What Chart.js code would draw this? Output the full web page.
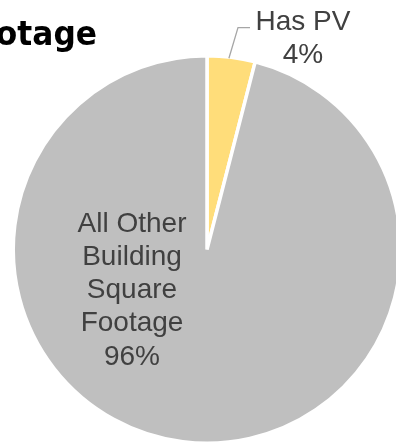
<!DOCTYPE html>
<html>
<head>
<meta charset="utf-8">
<script src="https://cdn.jsdelivr.net/npm/chart.js@4/dist/chart.umd.min.js"></script>
<style>
  html, body { margin: 0; padding: 0; background: #fff; overflow: hidden; }
  #wrap { width: 396px; height: 445px; overflow: hidden; }
</style>
</head>
<body>
<div id="wrap"><canvas id="pvShareChart" width="414" height="445"></canvas></div>
<script>
const categories = ['Has PV', 'All Other Building Square Footage'];
const shares = [4, 96];
const sliceColors = ['#FFDD7A', '#BFBFBF'];
const chartTitle = 'Building Square Footage';

// data labels + leader line, drawn by hand since datalabels isn't loaded
const sliceLabels = {
    id: 'sliceLabels',
    afterDraw(chart) {
        const ctx = chart.ctx;
        const arcs = chart.getDatasetMeta(0).data;
        const total = shares.reduce((a, b) => a + b, 0);
        const pct = i => Math.round(shares[i] / total * 100) + '%';
        ctx.save();
        ctx.fillStyle = '#404040';
        ctx.font = '28px "Liberation Sans", Arial, sans-serif';
        ctx.textAlign = 'center';
        ctx.textBaseline = 'alphabetic';

        // small slice: label outside with leader line
        const a0 = arcs[0];
        const mid = (a0.startAngle + a0.endAngle) / 2;
        const r = a0.outerRadius;
        const sx = a0.x + Math.cos(mid) * (r - 3);
        const sy = a0.y + Math.sin(mid) * (r - 3);
        ctx.strokeStyle = '#A6A6A6';
        ctx.lineWidth = 1.3;
        ctx.beginPath();
        ctx.moveTo(sx - 2, sy - 2);
        ctx.lineTo(a0.x + 31, a0.y - r * 1.145);
        ctx.lineTo(a0.x + 43, a0.y - r * 1.145);
        ctx.stroke();
        ctx.fillText(categories[0], a0.x + 96, a0.y - r * 1.133);
        ctx.fillText(pct(0), a0.x + 96, a0.y - r * 0.962);

        // big slice: wrapped label inside
        const a1 = arcs[1];
        const lines = ['All Other', 'Building', 'Square', 'Footage', pct(1)];
        const lx = a1.x - 75;
        let ly = a1.y - 18;
        lines.forEach(t => { ctx.fillText(t, lx, ly); ly += 33.3; });

        // title, runs off the left edge
        ctx.fillStyle = '#000';
        ctx.font = 'bold 34px "DejaVu Sans", sans-serif';
        ctx.textAlign = 'right';
        ctx.translate(97, 45);
        ctx.scale(0.92, 1);
        ctx.fillText(chartTitle, 0, 0);
        ctx.restore();
    }
};

const ctx = document.getElementById('pvShareChart').getContext('2d');
new Chart(ctx, {
    type: 'pie',
    data: {
        labels: categories,
        datasets: [{
            data: shares,
            backgroundColor: sliceColors,
            borderColor: '#FFFFFF',
            borderWidth: 3.5
        }]
    },
    options: {
        responsive: false,
        animation: false,
        layout: { padding: { top: 54, bottom: 0, left: 11, right: 11 } },
        plugins: {
            legend: { display: false },
            tooltip: { enabled: false }
        }
    },
    plugins: [sliceLabels]
});
</script>
</body>
</html>
